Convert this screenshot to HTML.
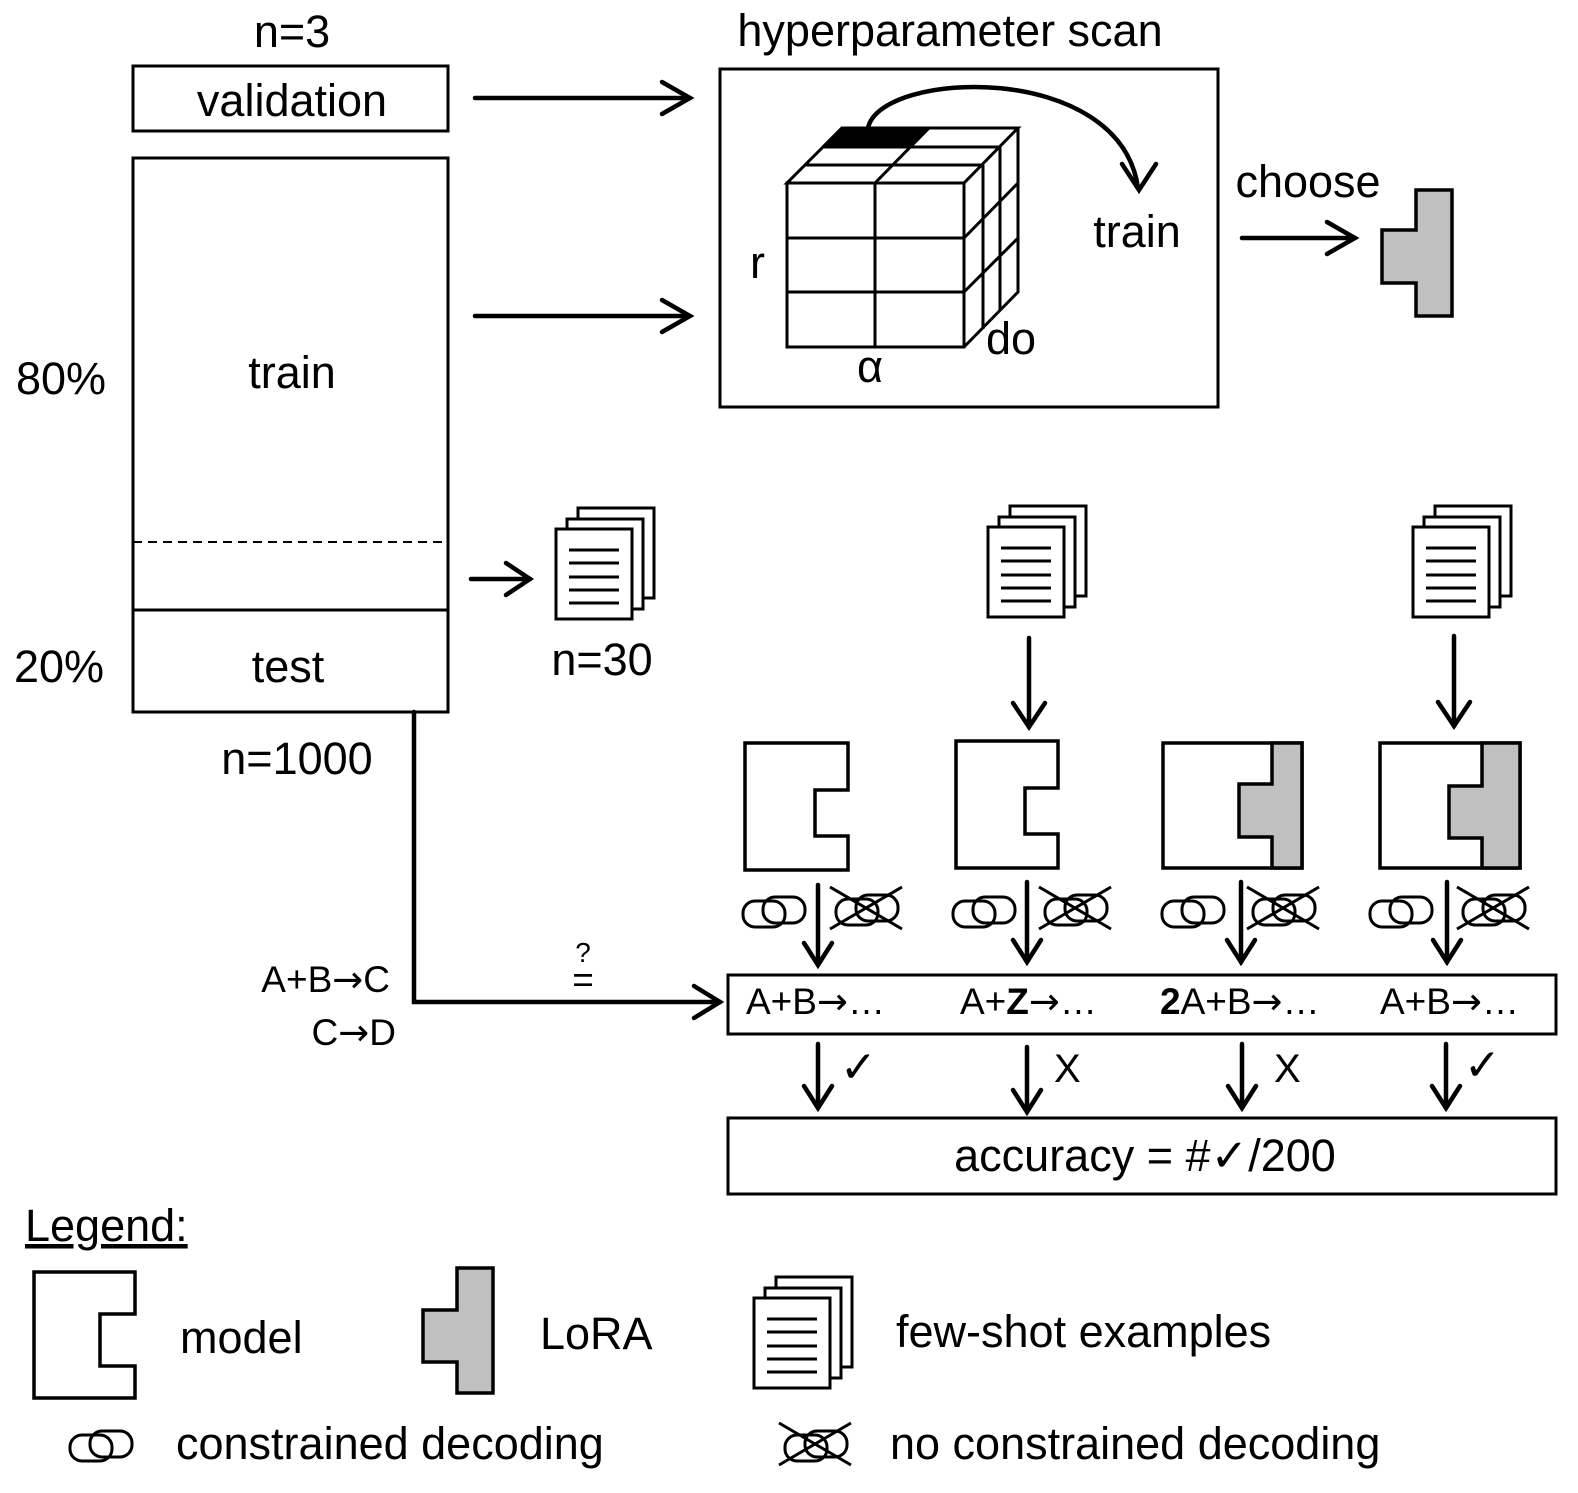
<!DOCTYPE html>
<html><head><meta charset="utf-8"><style>
html,body{margin:0;padding:0;background:#fff}
svg{display:block}
text{font-family:"Liberation Sans","DejaVu Sans",sans-serif;fill:#000}
.ar{font-family:"DejaVu Sans",sans-serif}
</style></head><body>
<svg width="1578" height="1493" viewBox="0 0 1578 1493" xmlns="http://www.w3.org/2000/svg">
<defs>
<g id="doc">
 <rect x="22" y="-21" width="76" height="90" fill="#fff" stroke="#000" stroke-width="3"/>
 <rect x="11" y="-10" width="76" height="90" fill="#fff" stroke="#000" stroke-width="3"/>
 <rect x="0" y="0" width="76" height="90" fill="#fff" stroke="#000" stroke-width="3"/>
 <g stroke="#000" stroke-width="3">
 <line x1="13" y1="21" x2="63" y2="21"/><line x1="13" y1="34" x2="63" y2="34"/>
 <line x1="13" y1="48" x2="63" y2="48"/><line x1="13" y1="61" x2="63" y2="61"/>
 <line x1="13" y1="74" x2="63" y2="74"/></g>
</g>
<g id="chain" fill="none" stroke="#000" stroke-width="3">
 <rect x="0" y="4" width="42" height="26" rx="12"/>
 <rect x="20" y="0" width="42" height="26" rx="12"/>
</g>
<g id="nochain">
 <use href="#chain"/>
 <line x1="-6" y1="34" x2="66" y2="-8" stroke="#000" stroke-width="3"/>
 <line x1="-6" y1="-8" x2="66" y2="34" stroke="#000" stroke-width="3"/>
</g>
</defs>

<g stroke="#000" stroke-width="3" fill="none">
 <rect x="133" y="66" width="315" height="65"/>
 <rect x="133" y="158" width="315" height="554"/>
 <line x1="133" y1="610" x2="448" y2="610"/>
 <line x1="133" y1="542" x2="448" y2="542" stroke-dasharray="9,6" stroke-width="2"/>
 <rect x="720" y="69" width="498" height="338"/>
 <rect x="728" y="975" width="828" height="59"/>
 <rect x="728" y="1118" width="828" height="76"/>
</g>

<g stroke="#000" stroke-width="4.5" fill="none" stroke-linecap="round">
 <line x1="475" y1="98" x2="690" y2="98"/><polyline points="662,82 690,98 662,114"/>
 <line x1="475" y1="316" x2="690" y2="316"/><polyline points="662,300 690,316 662,332"/>
 <line x1="1242" y1="238" x2="1355" y2="238"/><polyline points="1327,222 1355,238 1327,254"/>
 <line x1="471" y1="579" x2="530" y2="579"/><polyline points="506,563 530,579 506,595"/>
 <path d="M868,128 C880,70 1120,60 1138,188"/><polyline points="1122,164 1139,190 1156,164"/>
 <polyline points="414,712 414,1002 720,1002"/><polyline points="694,986 720,1002 694,1018"/>
 <line x1="1029" y1="638" x2="1029" y2="727"/><polyline points="1013,703 1029,727 1045,703"/>
 <line x1="1454" y1="636" x2="1454" y2="726"/><polyline points="1438,702 1454,726 1470,702"/>
</g>
<g stroke="#000" stroke-width="4.5" fill="none" stroke-linecap="round">
 <line x1="818" y1="885" x2="818" y2="965"/><polyline points="804,943 818,965 832,943"/>
 <line x1="1027" y1="882" x2="1027" y2="962"/><polyline points="1013,940 1027,962 1041,940"/>
 <line x1="1241" y1="882" x2="1241" y2="962"/><polyline points="1227,940 1241,962 1255,940"/>
 <line x1="1447" y1="882" x2="1447" y2="962"/><polyline points="1433,940 1447,962 1461,940"/>
 <line x1="818" y1="1044" x2="818" y2="1108"/><polyline points="804,1086 818,1108 832,1086"/>
 <line x1="1027" y1="1047" x2="1027" y2="1112"/><polyline points="1013,1090 1027,1112 1041,1090"/>
 <line x1="1242" y1="1044" x2="1242" y2="1108"/><polyline points="1228,1086 1242,1108 1256,1086"/>
 <line x1="1446" y1="1044" x2="1446" y2="1108"/><polyline points="1432,1086 1446,1108 1460,1086"/>
</g>

<g stroke="#000" stroke-width="3" fill="#fff">
 <polygon points="842,128 928,128 910,146 824,146" fill="#000"/>
 <polygon points="787,183 964,183 1018,128 842,128" fill="none"/>
 <line x1="805" y1="165" x2="983" y2="165"/>
 <line x1="823" y1="147" x2="1000" y2="147"/>
 <line x1="875" y1="183" x2="929" y2="128"/>
 <rect x="787" y="183" width="177" height="164" fill="none"/>
 <line x1="875" y1="183" x2="875" y2="347"/>
 <line x1="787" y1="238" x2="964" y2="238"/>
 <line x1="787" y1="292" x2="964" y2="292"/>
 <polyline points="964,347 1018,292 1018,128" fill="none"/>
 <line x1="983" y1="165" x2="983" y2="329"/>
 <line x1="1000" y1="147" x2="1000" y2="311"/>
 <line x1="964" y1="238" x2="1018" y2="183"/>
 <line x1="964" y1="292" x2="1018" y2="238"/>
</g>

<g stroke="#000" stroke-width="3.5" fill="#fff">
 <polygon points="745,743 848,743 848,790 815,790 815,836 848,836 848,870 745,870"/>
 <polygon points="956,741 1058,741 1058,788 1025,788 1025,834 1058,834 1058,868 956,868"/>
 <rect x="1163" y="743" width="139" height="125"/>
 <polygon points="1272,743 1302,743 1302,868 1272,868 1272,837 1239,837 1239,784 1272,784" fill="#c0c0c0"/>
 <rect x="1380" y="743" width="140" height="125"/>
 <polygon points="1482,743 1520,743 1520,868 1482,868 1482,838 1449,838 1449,786 1482,786" fill="#c0c0c0"/>
 <polygon points="1416,190 1452,190 1452,316 1416,316 1416,283 1382,283 1382,230 1416,230" fill="#c0c0c0"/>
 <polygon points="34,1272 135,1272 135,1314 100,1314 100,1366 135,1366 135,1398 34,1398"/>
 <polygon points="457,1268 493,1268 493,1393 457,1393 457,1362 423,1362 423,1310 457,1310" fill="#c0c0c0"/>
</g>

<use href="#doc" x="556" y="529"/>
<use href="#doc" x="988" y="527"/>
<use href="#doc" x="1413" y="527"/>
<use href="#doc" x="754" y="1298"/>

<use href="#chain" x="743" y="897"/>
<use href="#nochain" x="836" y="895"/>
<use href="#chain" x="953" y="897"/>
<use href="#nochain" x="1045" y="895"/>
<use href="#chain" x="1162" y="897"/>
<use href="#nochain" x="1253" y="895"/>
<use href="#chain" x="1370" y="897"/>
<use href="#nochain" x="1463" y="895"/>
<use href="#chain" x="70" y="1431"/>
<use href="#nochain" x="785" y="1431"/>

<g font-size="45">
 <text x="292" y="47" text-anchor="middle">n=3</text>
 <text x="292" y="116" text-anchor="middle">validation</text>
 <text x="292" y="388" text-anchor="middle">train</text>
 <text x="288" y="682" text-anchor="middle">test</text>
 <text x="16" y="394">80%</text>
 <text x="14" y="682">20%</text>
 <text x="297" y="774" text-anchor="middle">n=1000</text>
 <text x="602" y="675" text-anchor="middle">n=30</text>
 <text x="950" y="46" text-anchor="middle">hyperparameter scan</text>
 <text x="1308" y="197" text-anchor="middle">choose</text>
 <text x="1137" y="247" text-anchor="middle">train</text>
 <text x="750" y="278">r</text>
 <text x="986" y="354">do</text>
 <text x="870" y="382" text-anchor="middle">α</text>
 <text x="1145" y="1171" text-anchor="middle">accuracy = #<tspan class="ar">✓</tspan>/200</text>
 <text x="25" y="1241" text-decoration="underline">Legend:</text>
 <text x="180" y="1353">model</text>
 <text x="540" y="1349">LoRA</text>
 <text x="896" y="1347">few-shot examples</text>
 <text x="176" y="1459">constrained decoding</text>
 <text x="890" y="1459">no constrained decoding</text>
</g>
<g font-size="37">
 <text x="390" y="992" text-anchor="end">A+B<tspan class="ar">→</tspan>C</text>
 <text x="396" y="1045" text-anchor="end">C<tspan class="ar">→</tspan>D</text>
 <text x="746" y="1014">A+B<tspan class="ar">→</tspan>…</text>
 <text x="960" y="1014">A+<tspan font-weight="bold">Z</tspan><tspan class="ar">→</tspan>…</text>
 <text x="1160" y="1014"><tspan font-weight="bold">2</tspan>A+B<tspan class="ar">→</tspan>…</text>
 <text x="1380" y="1014">A+B<tspan class="ar">→</tspan>…</text>
 <text x="583" y="992" text-anchor="middle">=</text>
 <text x="583" y="962" text-anchor="middle" font-size="28">?</text>
 <text x="840" y="1082" font-size="44" class="ar">✓</text>
 <text x="1054" y="1082" font-size="40">X</text>
 <text x="1274" y="1082" font-size="40">X</text>
 <text x="1464" y="1080" font-size="44" class="ar">✓</text>
</g>
</svg>
</body></html>
